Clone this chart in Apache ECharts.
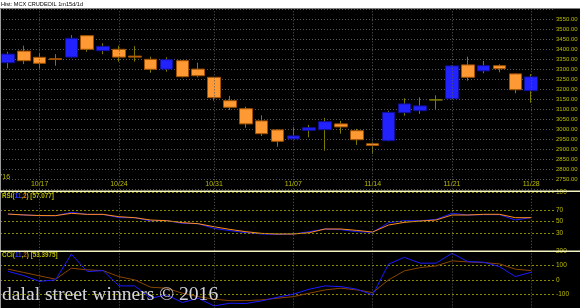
<!DOCTYPE html>
<html><head><meta charset="utf-8">
<script src="https://cdn.jsdelivr.net/npm/echarts@6/dist/echarts.min.js"></script>
<style>html,body{margin:0;padding:0;background:#000;}#c{width:580px;height:308px;}</style>
</head><body><div id="c"></div>
<script>
// ---- data ----
const dates = ['10/13','10/14','10/17','10/18','10/19','10/20','10/21','10/24','10/25','10/26','10/27','10/28','10/30','10/31','11/01','11/02','11/03','11/04','11/07','11/08','11/09','11/10','11/11','11/14','11/15','11/16','11/17','11/18','11/21','11/22','11/23','11/24','11/25','11/28'];
const opens  = [3333,3391,3360,3353,3361,3468,3393,3400,3366,3350,3301,3343,3301,3260,3143,3103,3042,2997,2952,2995,2998,3027,2993,2928,2943,3083,3093,3147,3153,3322,3292,3318,3277,3193];
const closes = [3376,3343,3330,3349,3455,3400,3415,3361,3361,3300,3348,3263,3268,3158,3110,3027,2978,2940,2967,3008,3038,3012,2948,2919,3085,3127,3117,3147,3317,3260,3318,3303,3198,3262];
const lows   = [3305,3326,3305,3318,3358,3388,3376,3338,3338,3283,3288,3260,3260,3143,3097,3008,2967,2913,2950,2960,2893,2978,2922,2877,2940,3068,3077,3097,3150,3243,3280,3285,3180,3133];
const highs  = [3388,3418,3383,3376,3471,3470,3430,3418,3416,3363,3360,3345,3333,3262,3167,3113,3070,3001,3010,3022,3057,3042,3002,2935,3093,3155,3160,3170,3320,3363,3342,3325,3280,3276];
const rsi       = [63,61.5,60.3,60.3,66,62.5,62.5,56.8,56.8,51.1,51.7,47.1,46.5,38.5,34.5,31.1,28.8,28.2,28.8,32.8,37.4,36.2,32.8,31.7,48.2,51.6,51.6,53.9,64.3,61.4,62,62,52.8,57.077];
const rsiSignal = [63,61.5,60.5,60.3,64.3,62.5,62.5,58.5,56.8,52.8,51.7,48.3,46.5,41.3,36.7,32.8,29.9,28.8,28.8,31,37.4,37.4,35,32.2,44.2,48.8,51.1,52.8,61.4,61.4,62.6,62.6,56.8,56.8];
const cci       = [60,30,-10,0,180,58,65,-42,-42,-128,-105,-158,-128,-182,-163,-165,-147,-121,-100,-65,-42,-47,-65,-105,110,158,117,117,186,128,124,93,23,53.3975];
const cciSignal = [75,52,28,5,82,70,65,23,0,-51,-58,-93,-117,-135,-145,-145,-140,-128,-117,-93,-70,-58,-70,-89,0,63,86,98,133,126,121,112,75,65];
const dateTicks = ['10/17','10/24','10/31','11/07','11/14','11/21','11/28'];
const rsiTicks = [100,70,50,30];
const rsiLevels = [100,70,50,30];
const dojiIndex = 27;

// ---- build ----
const cats = dates.concat(['']);
const last = dates.length - 1;
const YEL = '#bcbc00';
const FONT = 'Liberation Sans';
const wickData = dates.map((d,i)=>[opens[i],closes[i],lows[i],highs[i]]);
const bodyData = dates.map((d,i)=>{
  const v=[opens[i],closes[i],Math.min(opens[i],closes[i]),Math.max(opens[i],closes[i])];
  if(i===dojiIndex) return {value:v,itemStyle:{color:'#808000',color0:'#808000',borderColor:'#808000',borderColor0:'#808000'}};
  return v;
});
const vLines = dateTicks.map(d=>({xAxis: dates.indexOf(d)}));
const vLineStyle = {color:'#5a5a5a', type:[1,2], width:1};
const lvlStyle = {color:'#8c8c00', type:[2,2], width:1};
function bgMark(extra){
  return {symbol:'none', silent:true, animation:false, label:{show:false},
    lineStyle:vLineStyle, data: vLines.concat(extra||[])};
}
function valueBox(v, txt){
  return {symbol:'none', silent:true, animation:false,
    lineStyle:{opacity:0},
    label:{show:true, position:'end', distance:1, formatter:txt, backgroundColor:'#ffff00', color:'#000',
      fontSize:7, fontFamily:FONT, padding:[1,2,0,2]},
    data:[{yAxis:v}]};
}
const xAx = (gi, showLabel)=>({
  type:'category', gridIndex:gi, data:cats, boundaryGap:true,
  axisLine:{show:false}, axisTick:{show:false}, splitLine:{show:false},
  axisLabel: showLabel ? {show:true, inside:true, margin:2, color:YEL, fontSize:7, fontFamily:FONT,
    interval:(idx,val)=>dateTicks.indexOf(val)>=0} : {show:false}
});
const yBase = {position:'right', axisLine:{show:false}, axisTick:{show:false}, scale:false};
const richT = (c2)=>({rich:{a:{color:YEL,fontSize:6.3,fontFamily:FONT},b:{color:'#3030ff',fontSize:6.3,fontFamily:FONT},c:{color:c2,fontSize:6.3,fontFamily:FONT}}});

const option = {
  backgroundColor:'#000',
  animation:false,
  title:[
    {text:'Hist: MCX CRUDEOIL 1m15d/1d', left:1, top:1, padding:0, z:20,
      textStyle:{fontSize:5.6, color:'#000', fontWeight:'normal', fontFamily:FONT}},
    {text:'{a|RSI(}{b|11}{a|,}{c|2}{a|) ['+rsi[last]+']}', left:2, top:193, padding:0, z:20, textStyle:richT('#ff8000')},
    {text:'{a|CCI(}{b|11}{a|,}{c|2}{a|) ['+cci[last]+']}', left:2, top:252, padding:0, z:20, textStyle:richT('#b06000')}
  ],
  grid:[
    {left:0, top:9.3, width:555, height:180, outerBoundsMode:'none', containLabel:false},
    {left:0, top:192.5, width:555, height:58.3, outerBoundsMode:'none', containLabel:false},
    {left:0, top:251.3, width:555, height:57.2, outerBoundsMode:'none', containLabel:false}
  ],
  xAxis:[xAx(0,true), xAx(1,false), xAx(2,false)],
  yAxis:[
    Object.assign({}, yBase, {type:'value', gridIndex:0, min:2700, max:3600, interval:50,
      axisLabel:{color:YEL, fontSize:6, fontFamily:FONT, margin:1, showMinLabel:false, showMaxLabel:false,
        formatter:v=>v.toFixed(2)},
      splitLine:{show:true, lineStyle:{color:'#5a5a5a', type:[1,2], width:1}}}),
    Object.assign({}, yBase, {type:'value', gridIndex:1, min:0, max:100, interval:10,
      axisLabel:{color:YEL, fontSize:6.5, fontFamily:FONT, margin:1, formatter:v=>rsiTicks.indexOf(v)>=0?String(v):''},
      splitLine:{show:false}}),
    Object.assign({}, yBase, {type:'value', gridIndex:2, min:-200, max:200, interval:100,
      axisLabel:{color:YEL, fontSize:6.5, fontFamily:FONT, margin:1, showMinLabel:false},
      splitLine:{show:true, lineStyle:lvlStyle}})
  ],
  series:[
    {type:'line', xAxisIndex:0, yAxisIndex:0, data:[], z:1, markLine:bgMark()},
    {type:'candlestick', name:'wick', xAxisIndex:0, yAxisIndex:0, data:wickData, barWidth:1, z:2,
      itemStyle:{color:'#7a7a00', color0:'#7a7a00', borderColor:'#7a7a00', borderColor0:'#7a7a00', borderWidth:1}},
    {type:'candlestick', name:'body', xAxisIndex:0, yAxisIndex:0, data:bodyData, barWidth:13, z:3,
      itemStyle:{color:'#2222ff', color0:'#ff9933', borderColor:'#10109a', borderColor0:'#a05000', borderWidth:1},
      markLine:valueBox(closes[last], String(closes[last]))},
    {type:'line', xAxisIndex:1, yAxisIndex:1, data:[], z:1,
      markLine:bgMark(rsiLevels.map(v=>({yAxis:v, lineStyle:lvlStyle})))},
    {type:'line', name:'RSI', xAxisIndex:1, yAxisIndex:1, data:rsi, symbol:'none', z:3,
      lineStyle:{color:'#1a1aff', width:1}, markLine:valueBox(rsi[last], String(rsi[last]))},
    {type:'line', name:'RSI signal', xAxisIndex:1, yAxisIndex:1, data:rsiSignal, symbol:'none', z:4,
      lineStyle:{color:'#ff8c1a', width:1}},
    {type:'line', xAxisIndex:2, yAxisIndex:2, data:[], z:1, markLine:bgMark()},
    {type:'line', name:'CCI signal', xAxisIndex:2, yAxisIndex:2, data:cciSignal, symbol:'none', z:3,
      lineStyle:{color:'#8a4500', width:1}},
    {type:'line', name:'CCI', xAxisIndex:2, yAxisIndex:2, data:cci, symbol:'none', z:4,
      lineStyle:{color:'#1a1aff', width:1}, markLine:valueBox(cci[last], String(cci[last]))}
  ],
  graphic:[
    {type:'rect', z:0, silent:true, shape:{x:0,y:0,width:580,height:8.5}, style:{fill:'#ffffff'}},
    {type:'line', z:50, silent:true, shape:{x1:0.5,y1:8.5,x2:0.5,y2:308}, style:{stroke:'#9a9a9a', lineWidth:1}},
    {type:'line', z:50, silent:true, shape:{x1:0,y1:191.2,x2:580,y2:191.2}, style:{stroke:'#f4f4c0', lineWidth:1.6}},
    {type:'line', z:50, silent:true, shape:{x1:0,y1:251.2,x2:580,y2:251.2}, style:{stroke:'#f4f4c0', lineWidth:1.6}},
    {type:'text', z:50, silent:true, style:{x:1, y:174, text:"'16", fill:YEL, font:'7px "Liberation Sans"'}},
    {type:'text', z:60, silent:true, style:{x:2, y:285, text:'dalal street winners \u00a9 2016', fill:'#d4d4dc', font:'19.6px "Liberation Serif"'}}
  ]
};
const chart = echarts.init(document.getElementById('c'), null, {width:580, height:308});
chart.setOption(option);
</script></body></html>
